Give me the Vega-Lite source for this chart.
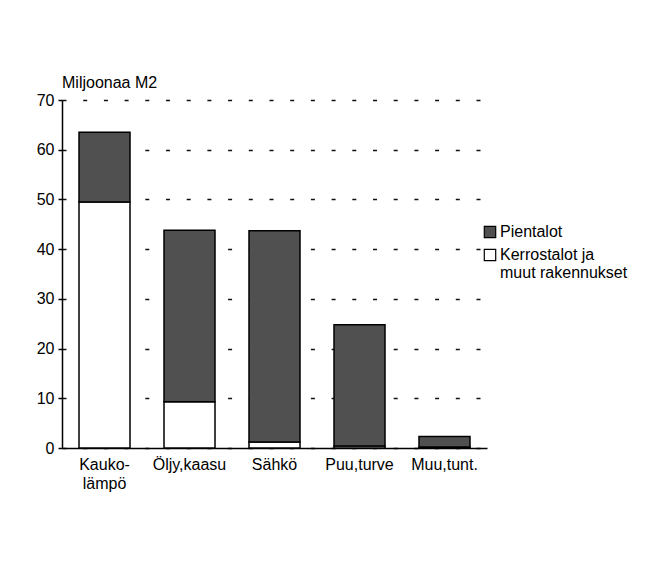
{
  "$schema": "https://vega.github.io/schema/vega-lite/v6.json",
  "width": 425,
  "height": 348,
  "autosize": {"type": "none"},
  "padding": {"left": 62, "top": 100, "right": 177, "bottom": 122},
  "background": "white",
  "config": {
    "font": "Liberation Sans",
    "view": {"stroke": null}
  },
  "title": {
    "text": "Miljoonaa M2",
    "anchor": "start",
    "frame": "group",
    "fontSize": 16,
    "fontWeight": "normal",
    "color": "#000",
    "offset": 1
  },
  "data": {
    "values": [
      {"lammitys": "Kauko-lämpö", "tyyppi": "Kerrostalot ja muut rakennukset", "arvo": 49.5},
      {"lammitys": "Kauko-lämpö", "tyyppi": "Pientalot", "arvo": 14.0},
      {"lammitys": "Öljy,kaasu", "tyyppi": "Kerrostalot ja muut rakennukset", "arvo": 9.3},
      {"lammitys": "Öljy,kaasu", "tyyppi": "Pientalot", "arvo": 34.5},
      {"lammitys": "Sähkö", "tyyppi": "Kerrostalot ja muut rakennukset", "arvo": 1.2},
      {"lammitys": "Sähkö", "tyyppi": "Pientalot", "arvo": 42.5},
      {"lammitys": "Puu,turve", "tyyppi": "Kerrostalot ja muut rakennukset", "arvo": 0.4},
      {"lammitys": "Puu,turve", "tyyppi": "Pientalot", "arvo": 24.4},
      {"lammitys": "Muu,tunt.", "tyyppi": "Kerrostalot ja muut rakennukset", "arvo": 0.2},
      {"lammitys": "Muu,tunt.", "tyyppi": "Pientalot", "arvo": 2.1}
    ]
  },
  "mark": {"type": "bar", "stroke": "#000", "strokeWidth": 1.5},
  "encoding": {
    "x": {
      "field": "lammitys",
      "type": "nominal",
      "sort": null,
      "scale": {"paddingInner": 0.4, "paddingOuter": 0.2},
      "axis": {
        "title": null,
        "labelAngle": 0,
        "ticks": false,
        "domainColor": "#000",
        "domainWidth": 1.5,
        "labelColor": "#000",
        "labelFontSize": 16,
        "labelPadding": 8,
        "labelLineHeight": 19,
        "labelExpr": "datum.value == 'Kauko-lämpö' ? ['Kauko-', 'lämpö'] : datum.value"
      }
    },
    "y": {
      "field": "arvo",
      "type": "quantitative",
      "stack": "zero",
      "scale": {"domain": [0, 70], "nice": false},
      "axis": {
        "title": null,
        "values": [0, 10, 20, 30, 40, 50, 60, 70],
        "domainColor": "#000",
        "domainWidth": 1.5,
        "tickColor": "#000",
        "tickSize": 4,
        "tickWidth": 1.5,
        "labelColor": "#000",
        "labelFontSize": 16,
        "labelPadding": 4,
        "grid": true,
        "gridColor": "#111",
        "gridWidth": 1.6,
        "gridDash": [4, 16.7]
      }
    },
    "order": {"field": "tyyppi", "type": "nominal", "sort": "ascending"},
    "color": {
      "field": "tyyppi",
      "type": "nominal",
      "scale": {
        "domain": ["Pientalot", "Kerrostalot ja muut rakennukset"],
        "range": ["#505050", "#ffffff"]
      },
      "legend": {
        "title": null,
        "orient": "none",
        "legendX": 420,
        "legendY": 124,
        "symbolType": "square",
        "symbolSize": 130,
        "symbolStrokeColor": "#000",
        "symbolStrokeWidth": 1.2,
        "labelFontSize": 16,
        "labelColor": "#000",
        "labelLimit": 300,
        "labelOffset": 2,
        "labelLineHeight": 24,
        "rowPadding": 5,
        "labelExpr": "datum.label == 'Kerrostalot ja muut rakennukset' ? ['Kerrostalot ja', 'muut rakennukset'] : datum.label"
      }
    }
  }
}
